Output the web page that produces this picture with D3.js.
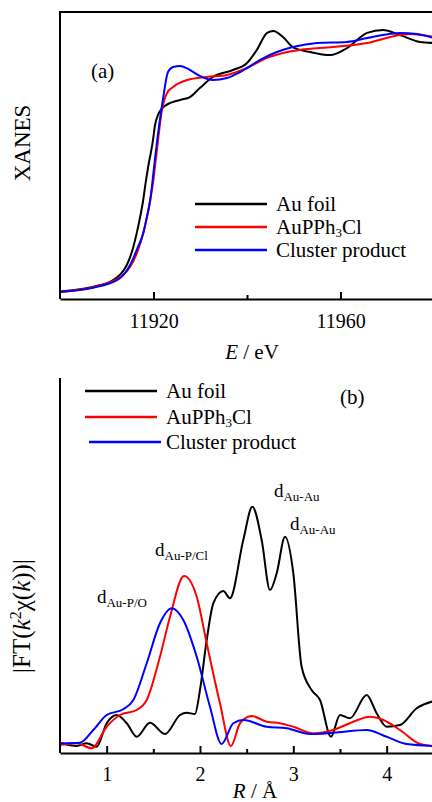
<!DOCTYPE html>
<html>
<head>
<meta charset="utf-8">
<script src="https://cdn.jsdelivr.net/npm/d3@7"></script>
<style>
  body { margin: 0; background: #fff; }
  svg { display: block; font-family: "Liberation Serif", "Times New Roman", serif; }
  svg text { font-family: "Liberation Serif", "Times New Roman", serif; }
</style>
</head>
<body>
<script>
// ---- datos (a): XANES, energia en eV, absorcion normalizada
var xanes_AuFoil = [[11900,0.036],[11908.6,0.068],[11910.7,0.084],[11912.8,0.117],[11914.3,0.166],[11915.7,0.255],[11916.4,0.320],[11917.1,0.395],[11917.8,0.483],[11918.3,0.564],[11918.9,0.650],[11919.4,0.710],[11919.9,0.776],[11920.3,0.845],[11920.9,0.895],[11922.7,0.946],[11925.7,0.971],[11927.8,0.985],[11929.9,1.029],[11932.7,1.083],[11937.0,1.117],[11940.0,1.151],[11942.1,1.215],[11944.3,1.298],[11945.6,1.307],[11947.7,1.278],[11949.8,1.229],[11953.5,1.205],[11957.8,1.190],[11961.4,1.224],[11965.7,1.298],[11969.1,1.312],[11972.7,1.288],[11977.0,1.254],[11980,1.249]]
var xanes_AuPPh3Cl = [[11900,0.034],[11908.6,0.066],[11912.8,0.107],[11915.0,0.156],[11916.7,0.239],[11917.8,0.322],[11918.6,0.400],[11919.3,0.483],[11919.9,0.566],[11920.3,0.644],[11920.7,0.720],[11921.8,0.922],[11922.9,1.005],[11924.2,1.034],[11927.2,1.068],[11931.4,1.083],[11935.7,1.093],[11940.0,1.127],[11944.3,1.176],[11947.7,1.200],[11951.3,1.215],[11958.4,1.229],[11965.7,1.249],[11972.7,1.288],[11974.9,1.293],[11980,1.278]]
var xanes_Cluster = [[11900,0.034],[11908.6,0.063],[11912.8,0.101],[11915.0,0.166],[11916.7,0.255],[11917.8,0.320],[11918.6,0.401],[11919.3,0.483],[11919.9,0.597],[11920.4,0.700],[11922.0,0.971],[11923.1,1.107],[11924.2,1.132],[11925.7,1.137],[11927.8,1.117],[11929.9,1.088],[11932.7,1.068],[11935.7,1.078],[11938.5,1.107],[11942.8,1.166],[11946.4,1.205],[11949.8,1.229],[11955.0,1.249],[11961.4,1.254],[11965.7,1.273],[11969.1,1.288],[11972.7,1.298],[11976.4,1.293],[11980,1.273]]

// ---- datos (b): |FT(k2 chi(k))|, R en Angstrom
var ft_AuFoil = [[0.5,0.40],[0.679,0.28],[0.786,0.39],[0.893,0.25],[1.0,1.19],[1.107,1.52],[1.215,1.19],[1.322,0.65],[1.464,1.21],[1.625,0.76],[1.786,1.52],[1.857,1.61],[1.946,1.56],[2.0,2.52],[2.072,4.52],[2.143,5.99],[2.25,6.48],[2.321,6.19],[2.464,8.52],[2.561,9.85],[2.661,8.52],[2.75,6.52],[2.822,7.19],[2.911,8.65],[3.0,7.19],[3.089,3.45],[3.196,2.52],[3.286,2.12],[3.404,0.65],[3.5,1.52],[3.607,1.39],[3.786,2.32],[3.893,1.59],[4.0,1.05],[4.143,1.12],[4.322,1.79],[4.5,2.07]]
var ft_AuPPh3Cl = [[0.5,0.32],[0.679,0.39],[0.84,0.19],[1.0,1.05],[1.143,1.52],[1.322,1.72],[1.429,2.12],[1.571,3.85],[1.679,5.45],[1.829,7.08],[1.965,6.25],[2.072,4.39],[2.214,1.99],[2.332,0.28],[2.429,1.19],[2.554,1.48],[2.715,1.25],[2.857,1.19],[3.0,1.05],[3.214,0.79],[3.428,0.92],[3.643,1.25],[3.821,1.45],[3.964,1.32],[4.143,0.92],[4.357,0.36],[4.5,0.28]]
var ft_Cluster = [[0.5,0.39],[0.714,0.41],[0.857,0.92],[1.0,1.52],[1.178,1.75],[1.286,2.12],[1.429,3.59],[1.571,5.19],[1.697,5.79],[1.821,5.32],[1.965,3.85],[2.107,1.85],[2.232,0.36],[2.357,1.19],[2.464,1.32],[2.715,1.05],[2.929,0.99],[3.179,0.76],[3.428,0.81],[3.786,0.92],[4.0,0.65],[4.214,0.36],[4.5,0.28]]

var series = ["Au foil", "AuPPh3Cl", "Cluster product"]
var colores = ["#000000", "#ff0000", "#0000ff"]

var ticksE = [11920, 11960]
var ticksE_menores = [11940]
var ticksR = [1, 2, 3, 4]
var ticksR_menores = [1.5, 2.5, 3.5]

// etiquetas de picos: [R, valor, texto, subindice]
var picos = [[2.793, 10.24, "d", "Au-Au"], [2.964, 8.92, "d", "Au-Au"], [1.518, 7.88, "d", "Au-P/Cl"], [0.896, 6.0, "d", "Au-P/O"]]

var svg = d3.select("body")
    .append("svg")
        .attr("width", 432)
        .attr("height", 802)

//------------------ PANEL (a)
var xa = d3.scaleLinear().domain([11900, 11980]).range([60, 434])
var ya = d3.scaleLinear().domain([0, 1.4]).range([299, 12])

var lineaA = d3.line()
    .x(d => xa(d[0]))
    .y(d => ya(d[1]))
    .curve(d3.curveMonotoneX)

var gA = svg.append("g")

;[xanes_AuFoil, xanes_AuPPh3Cl, xanes_Cluster].forEach(function (datos, i) {
    gA.append("path")
        .datum(datos)
        .attr("fill", "none")
        .attr("stroke", colores[i])
        .attr("stroke-width", 2)
        .attr("stroke-linejoin", "round")
        .attr("d", lineaA)
})

// marco
gA.append("line").attr("x1", 60).attr("x2", 60).attr("y1", 12).attr("y2", 299).attr("stroke", "#000").attr("stroke-width", 2)
gA.append("line").attr("x1", 59).attr("x2", 434).attr("y1", 12).attr("y2", 12).attr("stroke", "#000").attr("stroke-width", 2)

// eje x
var ejeA = gA.append("g")
    .attr("transform", "translate(0,299)")
    .call(d3.axisBottom(xa).tickValues(ticksE).tickSizeInner(-7).tickSizeOuter(0).tickPadding(15).tickFormat(d3.format("d")))
gA.append("g")
    .attr("transform", "translate(0,299)")
    .call(d3.axisBottom(xa).tickValues(ticksE_menores).tickSizeInner(-4).tickSizeOuter(0).tickFormat(""))
    .select(".domain").remove()

gA.selectAll(".domain").attr("stroke-width", 2)
gA.selectAll(".tick line").attr("stroke-width", 2)
ejeA.attr("font-family", null)
ejeA.selectAll("text").style("font-size", "20px")

gA.append("text")
    .attr("x", 252).attr("y", 359)
    .attr("text-anchor", "middle")
    .attr("font-size", 21)
    .html('<tspan font-style="italic">E</tspan> / eV')

gA.append("text")
    .attr("transform", "translate(30,143) rotate(-90)")
    .attr("text-anchor", "middle")
    .attr("font-size", 23)
    .text("XANES")

gA.append("text")
    .attr("x", 91).attr("y", 78)
    .attr("font-size", 21)
    .text("(a)")

// leyenda (a)
series.forEach(function (s, i) {
    var yy = 204 + i * 23
    gA.append("line").attr("x1", 195).attr("x2", 267).attr("y1", yy).attr("y2", yy)
        .attr("stroke", colores[i]).attr("stroke-width", 2.5)
    var t = gA.append("text").attr("x", 276).attr("y", yy + 7).attr("font-size", 21)
    if (s == "AuPPh3Cl") {
        t.html('AuPPh<tspan font-size="13" dy="3">3</tspan><tspan dy="-3">Cl</tspan>')
    } else {
        t.text(s)
    }
})

//------------------ PANEL (b)
var xb = d3.scaleLinear().domain([0.5, 4.5]).range([60, 433.3])
var yb = d3.scaleLinear().domain([0, 15]).range([753, 378])

var lineaB = d3.line()
    .x(d => xb(d[0]))
    .y(d => yb(d[1]))
    .curve(d3.curveMonotoneX)

var gB = svg.append("g")

;[ft_AuFoil, ft_AuPPh3Cl, ft_Cluster].forEach(function (datos, i) {
    gB.append("path")
        .datum(datos)
        .attr("fill", "none")
        .attr("stroke", colores[i])
        .attr("stroke-width", 2)
        .attr("stroke-linejoin", "round")
        .attr("d", lineaB)
})

gB.append("line").attr("x1", 60).attr("x2", 60).attr("y1", 378).attr("y2", 753).attr("stroke", "#000").attr("stroke-width", 2)

var ejeB = gB.append("g")
    .attr("transform", "translate(0,753)")
    .call(d3.axisBottom(xb).tickValues(ticksR).tickSizeInner(-7).tickSizeOuter(0).tickPadding(14).tickFormat(d3.format("d")))
gB.append("g")
    .attr("transform", "translate(0,753)")
    .call(d3.axisBottom(xb).tickValues(ticksR_menores).tickSizeInner(-4).tickSizeOuter(0).tickFormat(""))
    .select(".domain").remove()

gB.selectAll(".domain").attr("stroke-width", 2)
gB.selectAll(".tick line").attr("stroke-width", 2)
ejeB.attr("font-family", null)
ejeB.selectAll("text").style("font-size", "20px")

gB.append("text")
    .attr("x", 255).attr("y", 798)
    .attr("text-anchor", "middle")
    .attr("font-size", 21)
    .html('<tspan font-style="italic">R</tspan> / Å')

gB.append("text")
    .attr("transform", "translate(30,616) rotate(-90)")
    .attr("text-anchor", "middle")
    .attr("font-size", 25)
    .html('|FT(<tspan font-style="italic">k</tspan><tspan font-size="16" dy="-9">2</tspan><tspan dy="9">χ(</tspan><tspan font-style="italic">k</tspan>))|')

gB.append("text")
    .attr("x", 340).attr("y", 404)
    .attr("font-size", 21)
    .text("(b)")

// leyenda (b)
series.forEach(function (s, i) {
    var yy = [391, 417, 442][i]
    var x1 = i == 2 ? 89 : 85
    gB.append("line").attr("x1", x1).attr("x2", x1 + 72).attr("y1", yy).attr("y2", yy)
        .attr("stroke", colores[i]).attr("stroke-width", 2.5)
    var t = gB.append("text").attr("x", 166).attr("y", yy + 7).attr("font-size", 21)
    if (s == "AuPPh3Cl") {
        t.html('AuPPh<tspan font-size="13" dy="3">3</tspan><tspan dy="-3">Cl</tspan>')
    } else {
        t.text(s)
    }
})

// etiquetas de picos
picos.forEach(function (p) {
    gB.append("text")
        .attr("x", xb(p[0]))
        .attr("y", yb(p[1]))
        .attr("font-size", 19)
        .html(p[2] + '<tspan font-size="13" dy="4">' + p[3] + '</tspan>')
})
</script>
</body>
</html>
